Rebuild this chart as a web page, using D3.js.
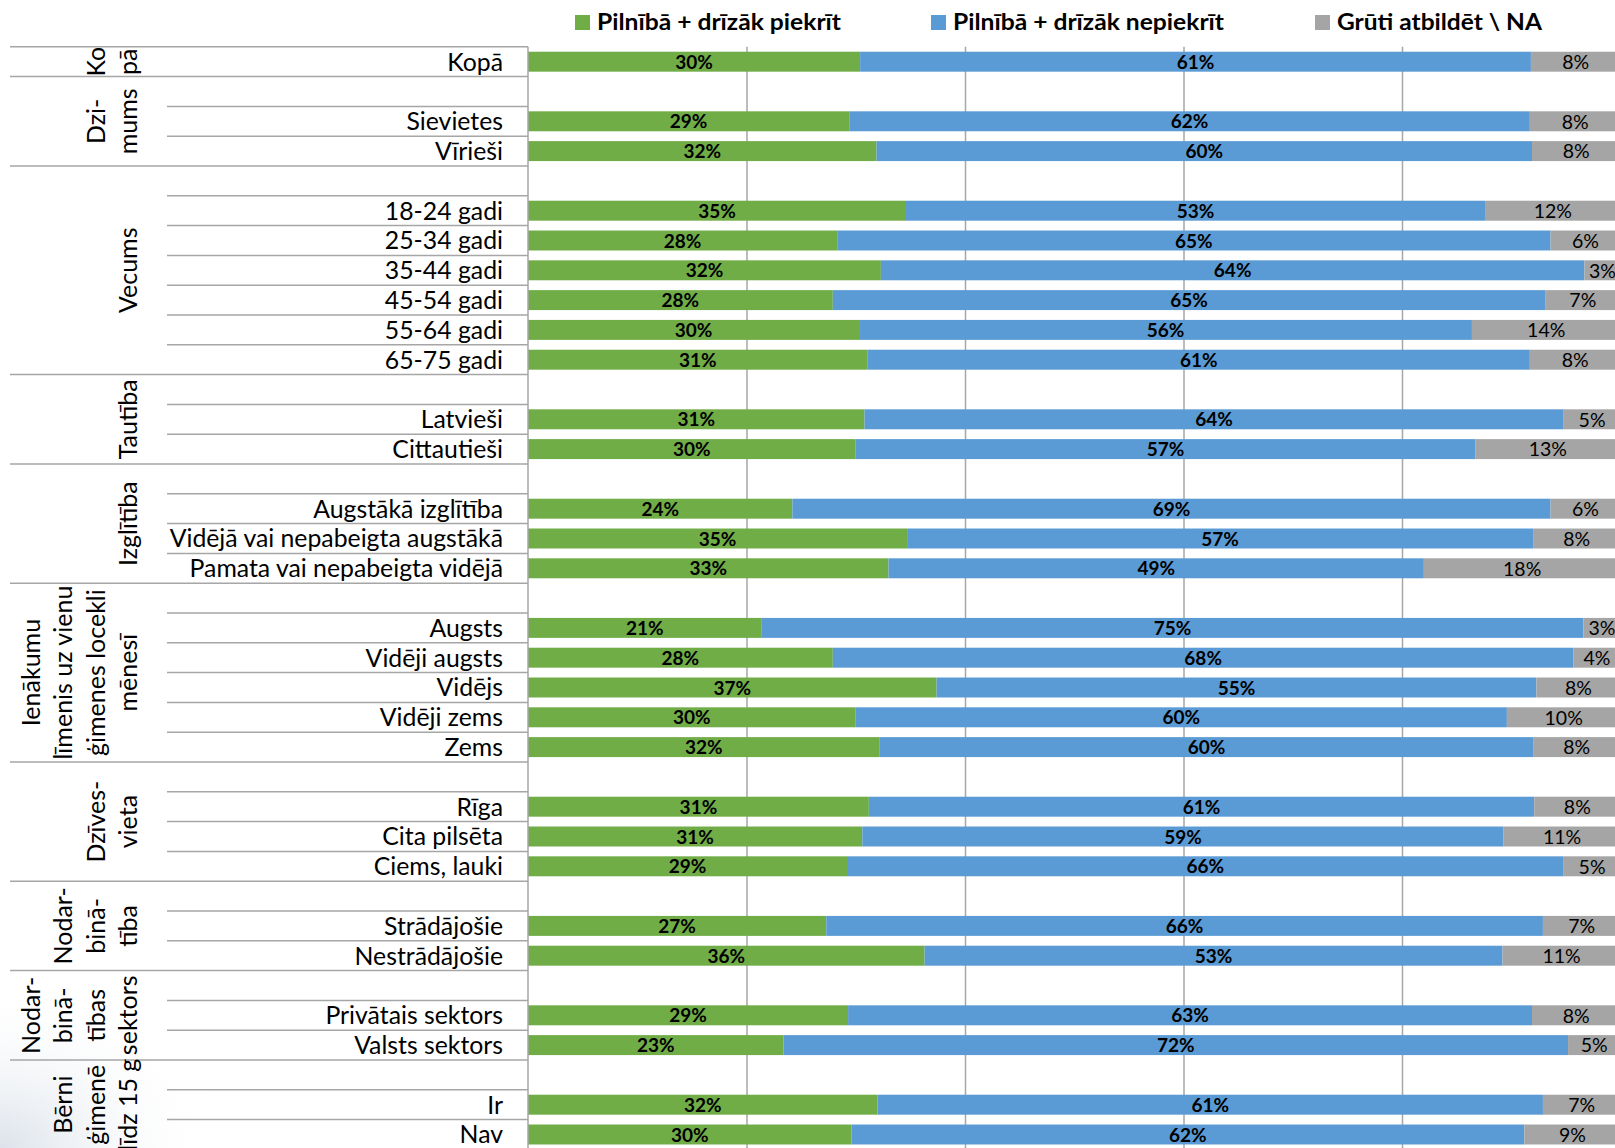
<!DOCTYPE html>
<html>
<head>
<meta charset="utf-8">
<script src="https://cdn.jsdelivr.net/npm/d3@7"></script>
<style>
  html, body { margin: 0; padding: 0; background: #fff; }
  svg { display: block; font-family: Lato, "Open Sans", sans-serif; }
</style>
</head>
<body>
<div id="chart"></div>
<script>
// --- data ---
var seriesNames = ["Pilnībā + drīzāk piekrīt", "Pilnībā + drīzāk nepiekrīt", "Grūti atbildēt \\ NA"];

var groupLabels = [
	["Ko", "pā"],
	["Dzi-", "mums"],
	["Vecums"],
	["Tautība"],
	["Izglītība"],
	["Ienākumu", "līmenis uz vienu", "ģimenes locekli", "mēnesī"],
	["Dzīves-", "vieta"],
	["Nodar-", "binā-", "tība"],
	["Nodar-", "binā-", "tības", "sektors"],
	["Bērni", "ģimenē", "līdz 15 g"]
];
var groupSizes = [1, 2, 6, 2, 3, 5, 3, 2, 2, 2];

var categories = [
	"Kopā",
	"Sievietes", "Vīrieši",
	"18-24 gadi", "25-34 gadi", "35-44 gadi", "45-54 gadi", "55-64 gadi", "65-75 gadi",
	"Latvieši", "Cittautieši",
	"Augstākā izglītība", "Vidējā vai nepabeigta augstākā", "Pamata vai nepabeigta vidējā",
	"Augsts", "Vidēji augsts", "Vidējs", "Vidēji zems", "Zems",
	"Rīga", "Cita pilsēta", "Ciems, lauki",
	"Strādājošie", "Nestrādājošie",
	"Privātais sektors", "Valsts sektors",
	"Ir", "Nav"
];

var agree    = [30.4, 29.4, 31.9, 34.6, 28.3, 32.3, 27.9, 30.3, 31.1, 30.8, 30.0, 24.2, 34.7, 33.0, 21.4, 27.9, 37.4, 30.0, 32.2, 31.2, 30.6, 29.2, 27.3, 36.3, 29.3, 23.4, 32.0, 29.6];
var disagree = [61.4, 62.3, 60.0, 53.0, 65.3, 64.4, 65.2, 56.1, 60.6, 64.0, 56.7, 69.4, 57.3, 49.0, 75.2, 67.8, 54.9, 59.6, 59.8, 60.9, 58.7, 65.6, 65.6, 52.9, 62.6, 71.8, 60.9, 61.6];
var hard     = [8.2, 8.3, 8.1, 12.4, 6.4, 3.3, 6.9, 13.6, 8.3, 5.2, 13.3, 6.4, 8.0, 18.0, 3.4, 4.3, 7.7, 10.4, 8.0, 7.9, 10.7, 5.2, 7.1, 10.8, 8.1, 4.8, 7.1, 8.8];

var gridTicks = [20, 40, 60, 80];

// --- layout ---
var width = 1615;
var height = 1148;
var topY = 46.8;
var rowH = 29.8;
var colors = ["#70AD47", "#5B9BD5", "#A5A5A5"];
var lineColor = "#A6A6A6";

var svg = d3.select("#chart")
			.append("svg")
			.attr("width", width)
			.attr("height", height)
			.style("overflow", "hidden");

// faint slide background in the lower left corner
var defs = svg.append("defs");
var grad = defs.append("radialGradient")
			   .attr("id", "bg")
			   .attr("cx", "0%").attr("cy", "100%").attr("r", "100%");
grad.append("stop").attr("offset", "0%").attr("stop-color", "#cdd6e1").attr("stop-opacity", 0.7);
grad.append("stop").attr("offset", "100%").attr("stop-color", "#ffffff").attr("stop-opacity", 0);
svg.append("rect")
   .attr("x", 0).attr("y", 980)
   .attr("width", 220).attr("height", 168)
   .attr("fill", "url(#bg)");

// rows: every group except the first starts with an empty row
var rows = [];
var spans = [];
var ci = 0;
groupSizes.forEach(function(n, g) {
	var start = rows.length;
	if (g > 0) rows.push({ cat: -1 });
	for (var i = 0; i < n; i++) rows.push({ cat: ci++ });
	spans.push([start, rows.length]);
});

var y = d3.scaleBand()
		  .domain(d3.range(rows.length))
		  .range([topY, topY + rows.length * rowH]);

var x = d3.scaleLinear()
		  .domain([0, 100])
		  .range([528, 1620.5]);

var bottomY = topY + rows.length * rowH;

// gridlines
var grid = svg.append("g")
			  .attr("transform", "translate(0," + topY + ")")
			  .call(d3.axisBottom(x)
					  .tickValues(gridTicks)
					  .tickSize(bottomY - topY)
					  .tickFormat(""));
grid.select(".domain").remove();
grid.selectAll("line").attr("stroke", lineColor).attr("stroke-width", 1.5);

// table lines
var groupStarts = spans.map(function(s) { return s[0]; });
var bounds = d3.range(rows.length + 1);
svg.append("g")
   .selectAll("line")
   .data(bounds)
   .enter()
   .append("line")
   .attr("x1", function(r) { return groupStarts.indexOf(r) >= 0 || r === rows.length ? 10 : 167; })
   .attr("x2", x(0))
   .attr("y1", function(r) { return topY + r * rowH; })
   .attr("y2", function(r) { return topY + r * rowH; })
   .attr("stroke", lineColor)
   .attr("stroke-width", 1.5);

// bars
var data = categories.map(function(c, i) {
	return { cat: c, a: agree[i], d: disagree[i], h: hard[i], row: 0 };
});
rows.forEach(function(r, i) { if (r.cat >= 0) data[r.cat].row = i; });

var stack = d3.stack().keys(["a", "d", "h"]);
var layers = stack(data);
var barH = y.bandwidth() * 0.67;

var layer = svg.append("g")
			   .selectAll("g")
			   .data(layers)
			   .enter()
			   .append("g")
			   .attr("fill", function(d, i) { return colors[i]; });

layer.selectAll("rect")
	 .data(function(d) { return d; })
	 .enter()
	 .append("rect")
	 .attr("x", function(d) { return x(d[0]); })
	 .attr("width", function(d) { return x(d[1]) - x(d[0]); })
	 .attr("y", function(d) { return y(d.data.row) + (y.bandwidth() - barH) / 2; })
	 .attr("height", barH);

layer.selectAll("text")
	 .data(function(d) { return d.map(function(p) { p.key = d.key; return p; }); })
	 .enter()
	 .append("text")
	 .attr("x", function(d) { return (x(d[0]) + x(d[1])) / 2; })
	 .attr("y", function(d) { return y(d.data.row) + y.bandwidth() / 2; })
	 .attr("dy", "0.37em")
	 .attr("text-anchor", "middle")
	 .attr("fill", "#000")
	 .attr("font-size", function(d) { return d.key === "h" ? 19.5 : 19; })
	 .attr("font-weight", function(d) { return d.key === "h" ? "normal" : "bold"; })
	 .text(function(d) { return Math.round(d[1] - d[0]) + "%"; });

// axis line
svg.append("line")
   .attr("x1", x(0)).attr("x2", x(0))
   .attr("y1", topY).attr("y2", bottomY)
   .attr("stroke", lineColor)
   .attr("stroke-width", 1.5);

// category labels
svg.append("g")
   .selectAll("text")
   .data(data)
   .enter()
   .append("text")
   .attr("x", 503)
   .attr("y", function(d) { return y(d.row) + y.bandwidth() / 2; })
   .attr("dy", "0.36em")
   .attr("text-anchor", "end")
   .attr("font-size", 24.8)
   .attr("fill", "#000")
   .text(function(d) { return d.cat; });

// group labels, rotated
groupLabels.forEach(function(lines, g) {
	var yc = (topY + spans[g][0] * rowH + topY + spans[g][1] * rowH) / 2;
	lines.forEach(function(t, i) {
		var bx = 137 - (lines.length - 1 - i) * 32.5;
		svg.append("text")
		   .attr("transform", "translate(" + bx + "," + yc + ") rotate(-90)")
		   .attr("text-anchor", "middle")
		   .attr("font-size", 25)
		   .attr("fill", "#000")
		   .text(t);
	});
});

// legend
var legendX = [575, 931, 1315];
var legendW = [244, 271, 205];
var legend = svg.append("g")
				.selectAll("g")
				.data(seriesNames)
				.enter()
				.append("g")
				.attr("transform", function(d, i) { return "translate(" + legendX[i] + ",0)"; });

legend.append("rect")
	  .attr("x", 0).attr("y", 15)
	  .attr("width", 15).attr("height", 15)
	  .attr("fill", function(d, i) { return colors[i]; });

legend.append("text")
	  .attr("x", 22)
	  .attr("y", 30)
	  .attr("font-size", 23)
	  .attr("font-weight", "bold")
	  .attr("textLength", function(d, i) { return legendW[i]; })
	  .attr("lengthAdjust", "spacingAndGlyphs")
	  .attr("fill", "#000")
	  .text(function(d) { return d; });
</script>
</body>
</html>
